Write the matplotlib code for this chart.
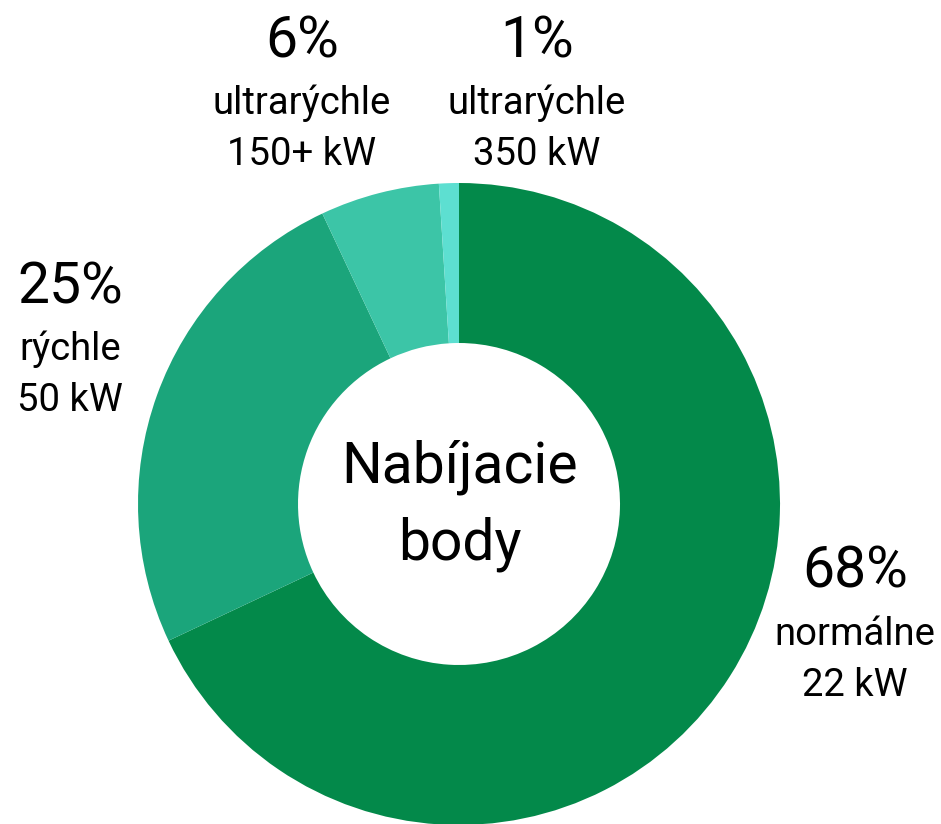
import matplotlib.pyplot as plt

plt.rcParams['font.family'] = ['Roboto', 'DejaVu Sans']

# data
shares = [68, 25, 6, 1]
names = ['normálne', 'rýchle', 'ultrarýchle', 'ultrarýchle']
powers = ['22 kW', '50 kW', '150+ kW', '350 kW']
colors = ['#03894a', '#1ba57b', '#3cc5a7', '#5ddfd1']
center_text = 'Nabíjacie\nbody'

W, H = 941, 824
fig = plt.figure(figsize=(W / 100, H / 100), dpi=100)
ax = fig.add_axes([0, 0, 1, 1])

ax.pie(shares, colors=colors, startangle=90, counterclock=False,
       center=(459, H - 504), radius=321,
       wedgeprops=dict(width=160, linewidth=0))
ax.set_xlim(0, W)
ax.set_ylim(0, H)
ax.set_aspect('equal')
ax.axis('off')

# label anchor (x, baseline of the percent line) in pixels from top-left
label_pos = [(855, 588), (70, 303), (302, 57), (537, 57)]
for (x, y), p, n, kw in zip(label_pos, shares, names, powers):
    ax.text(x, H - y, f'{p}%', fontsize=41, ha='center', va='baseline')
    ax.text(x, H - (y + 57), n, fontsize=27.5, ha='center', va='baseline')
    ax.text(x, H - (y + 108), kw, fontsize=27.5, ha='center', va='baseline')

lines = center_text.split('\n')
ax.text(460, H - 482, lines[0], fontsize=41, ha='center', va='baseline')
ax.text(460, H - 560, lines[1], fontsize=41, ha='center', va='baseline')

fig.savefig('out.png', dpi=100)
